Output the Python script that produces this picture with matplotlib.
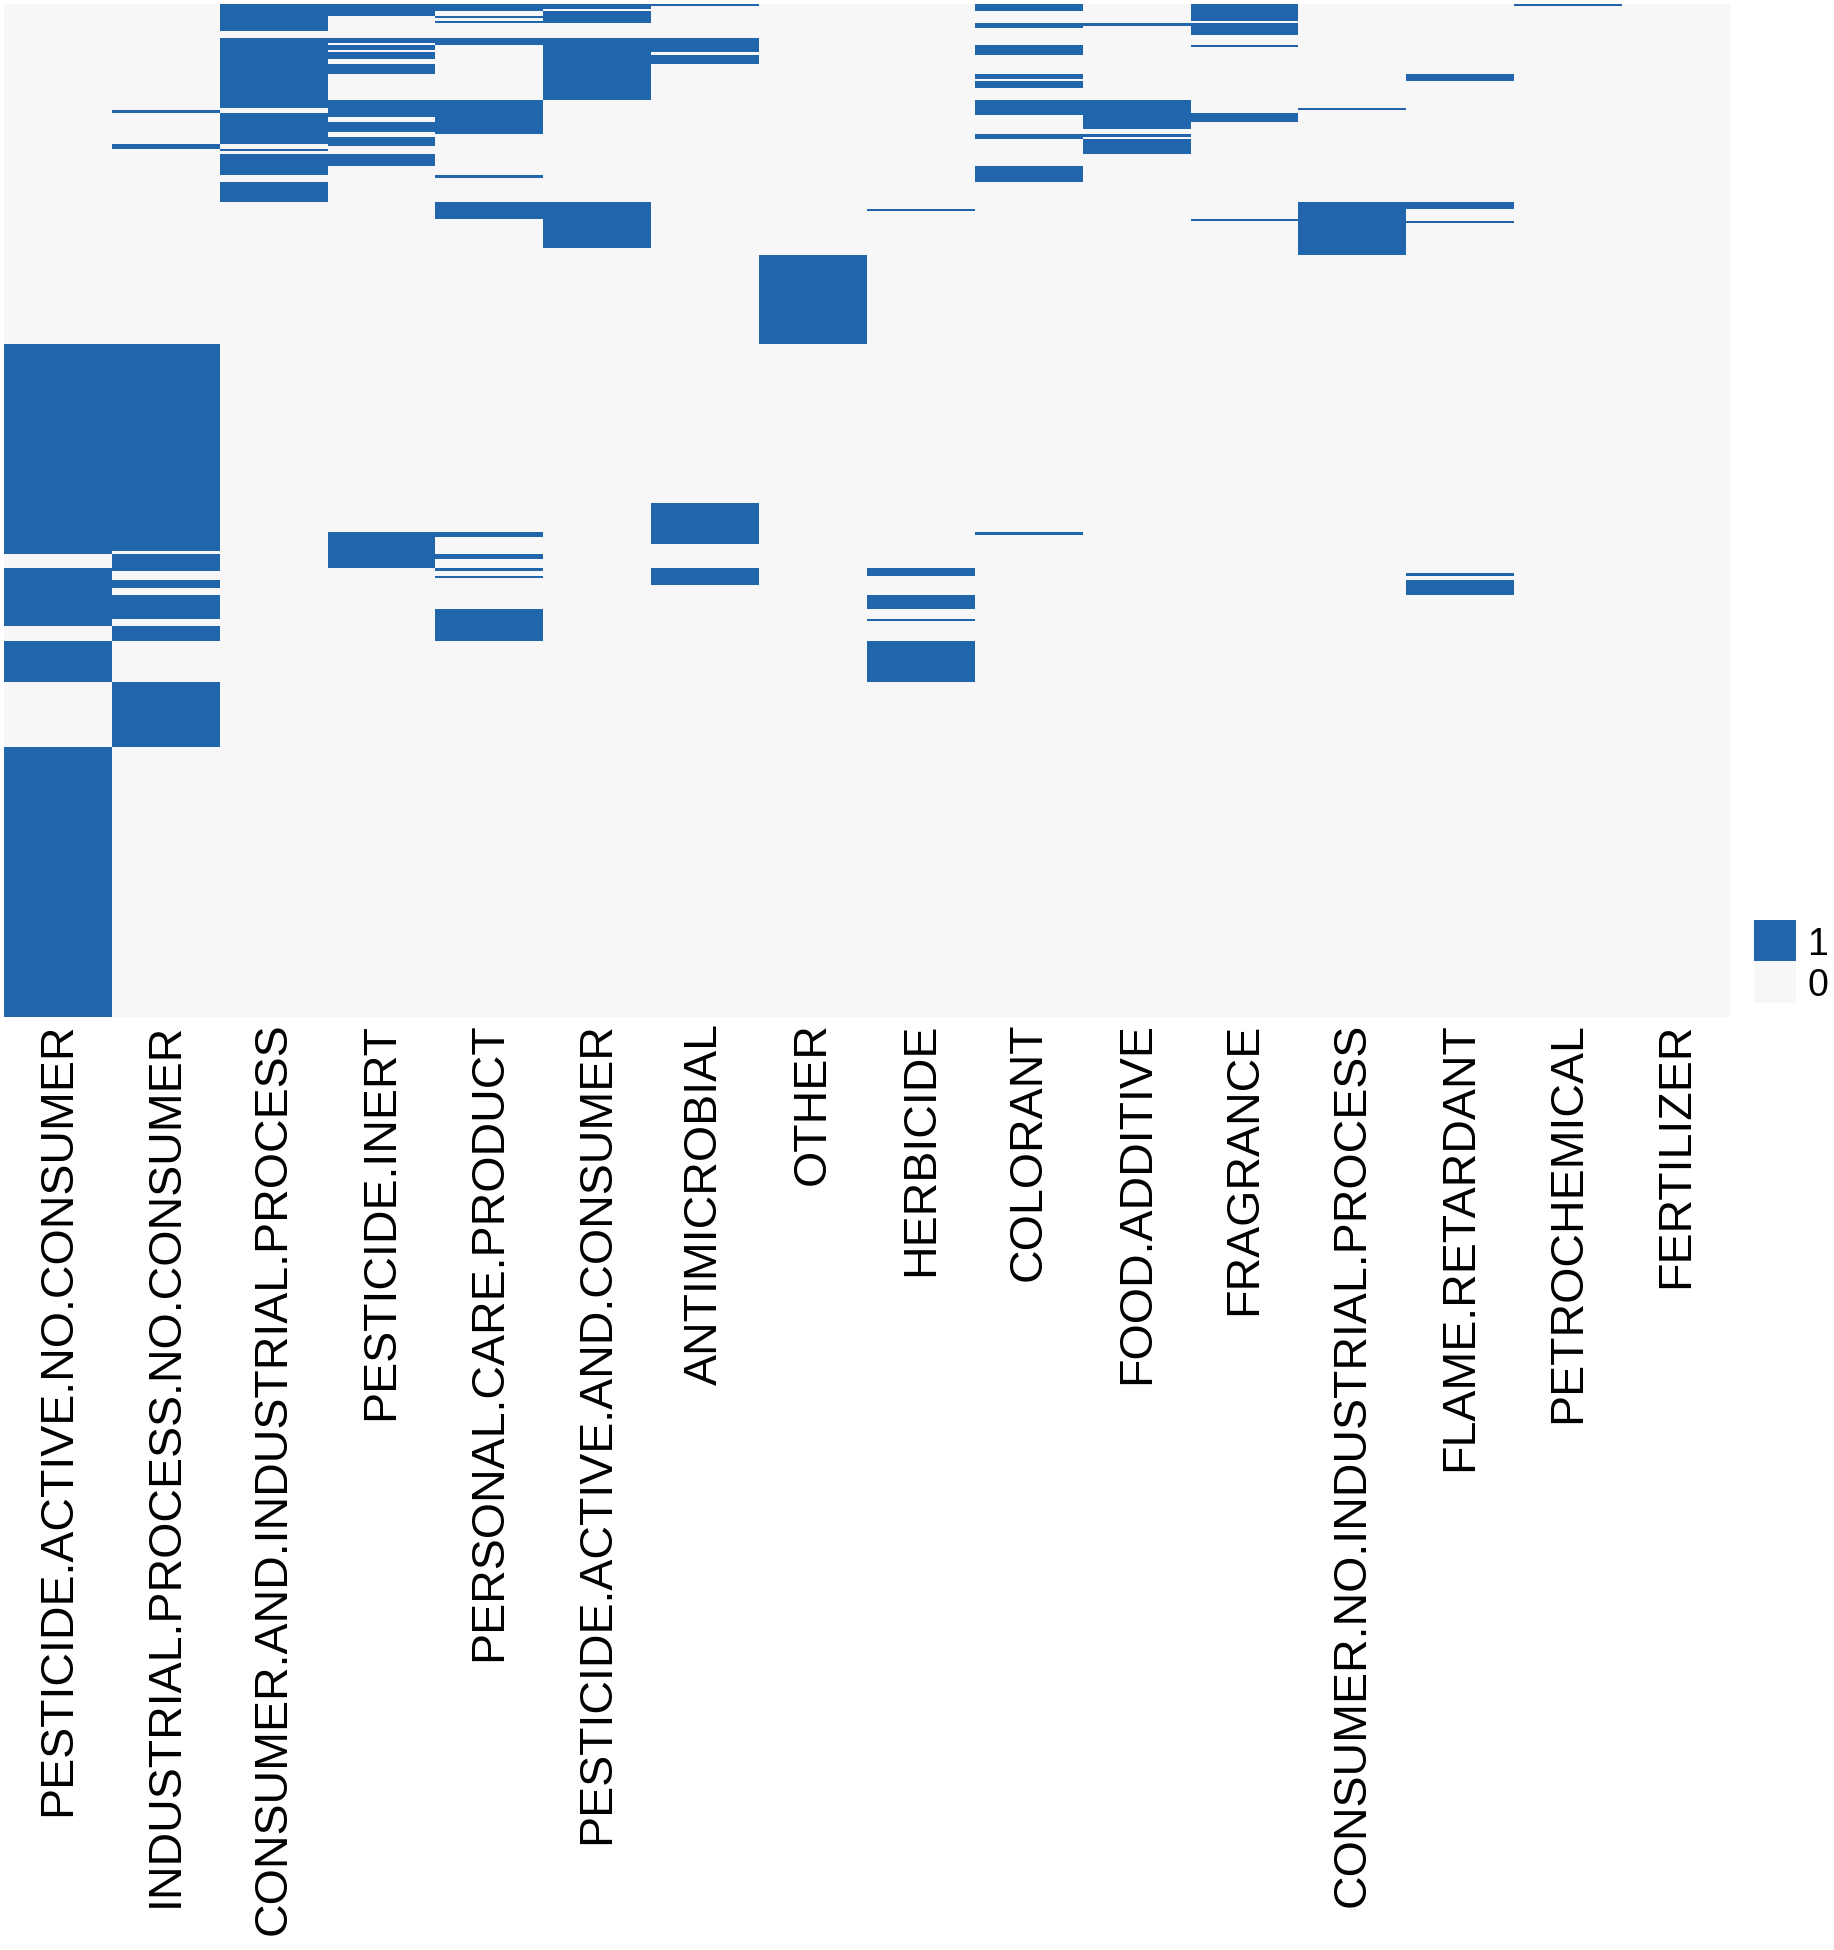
import numpy as np
import matplotlib
matplotlib.use("Agg")
import matplotlib.pyplot as plt
from matplotlib.colors import ListedColormap

plt.rcParams['font.family'] = ['Liberation Sans', 'DejaVu Sans']

# use categories (columns) and the row ranges (chemical index) flagged 1
categories = ["PESTICIDE.ACTIVE.NO.CONSUMER", "INDUSTRIAL.PROCESS.NO.CONSUMER",
              "CONSUMER.AND.INDUSTRIAL.PROCESS", "PESTICIDE.INERT",
              "PERSONAL.CARE.PRODUCT", "PESTICIDE.ACTIVE.AND.CONSUMER",
              "ANTIMICROBIAL", "OTHER", "HERBICIDE", "COLORANT", "FOOD.ADDITIVE",
              "FRAGRANCE", "CONSUMER.NO.INDUSTRIAL.PROCESS", "FLAME.RETARDANT",
              "PETROCHEMICAL", "FERTILIZER"]
n_chem = 420

pest_active_no_consumer = [(141, 228), (234, 258), (264, 281), (308, 420)]
industrial_no_consumer = [(44, 45), (58, 60), (141, 227), (228, 235), (239, 242),
                          (245, 255), (258, 264), (281, 308)]
consumer_and_industrial = [(0, 11), (14, 43), (45, 58), (60, 61), (62, 71), (74, 82)]
pest_inert = [(0, 5), (14, 16), (17, 19), (20, 23), (25, 29), (40, 47), (49, 53),
              (55, 59), (62, 67), (219, 234)]
personal_care = [(0, 3), (5, 6), (7, 8), (14, 17), (40, 54), (71, 72), (82, 89),
                 (219, 221), (228, 230), (234, 235), (237, 238), (251, 264)]
pest_active_and_consumer = [(0, 2), (3, 8), (14, 40), (82, 101)]
antimicrobial = [(0, 1), (14, 20), (21, 25), (207, 224), (234, 241)]
other = [(104, 141)]
herbicide = [(85, 86), (234, 237), (245, 251), (255, 256), (264, 281)]
colorant = [(0, 3), (8, 10), (17, 21), (29, 31), (32, 35), (40, 46), (54, 56),
            (67, 74), (219, 220)]
food_additive = [(8, 9), (40, 52), (54, 55), (56, 62)]
fragrance = [(0, 7), (8, 13), (17, 18), (45, 49), (89, 90)]
consumer_no_industrial = [(43, 44), (82, 104)]
flame_retardant = [(29, 32), (82, 85), (90, 91), (236, 237), (239, 245)]
petrochemical = [(0, 1)]
fertilizer = []

columns = [pest_active_no_consumer, industrial_no_consumer, consumer_and_industrial,
           pest_inert, personal_care, pest_active_and_consumer, antimicrobial, other,
           herbicide, colorant, food_additive, fragrance, consumer_no_industrial,
           flame_retardant, petrochemical, fertilizer]

mat = np.zeros((n_chem, len(categories)))
for j, ranges in enumerate(columns):
    for a, b in ranges:
        mat[a:b, j] = 1

cmap = ListedColormap(['#F7F7F7', '#2166AC'])

W, H = 1834, 1950
fig = plt.figure(figsize=(W / 100, H / 100), dpi=100)
ax = fig.add_axes([4 / W, 1 - 1017 / H, (1730 - 4) / W, (1017 - 4) / H])
ax.imshow(mat, aspect='auto', cmap=cmap, vmin=0, vmax=1, interpolation='nearest')
ax.set_xticks(np.arange(len(categories)))
ax.set_xticklabels(categories, rotation=90, fontsize=33.5, va='top')
ax.set_yticks([])
ax.tick_params(axis='x', length=0, pad=4)
for s in ax.spines.values():
    s.set_visible(False)

# legend
lax = fig.add_axes([1754 / W, 1 - 1003 / H, 42 / W, 83 / H])
lax.imshow(np.array([[1], [0]]), aspect='auto', cmap=cmap, vmin=0, vmax=1)
lax.set_xticks([])
lax.yaxis.tick_right()
lax.set_yticks([0, 1])
lax.set_yticklabels(['1', '0'], fontsize=27)
lax.tick_params(axis='y', length=0, pad=8)
for s in lax.spines.values():
    s.set_visible(False)

fig.savefig("out.png", dpi=100)
